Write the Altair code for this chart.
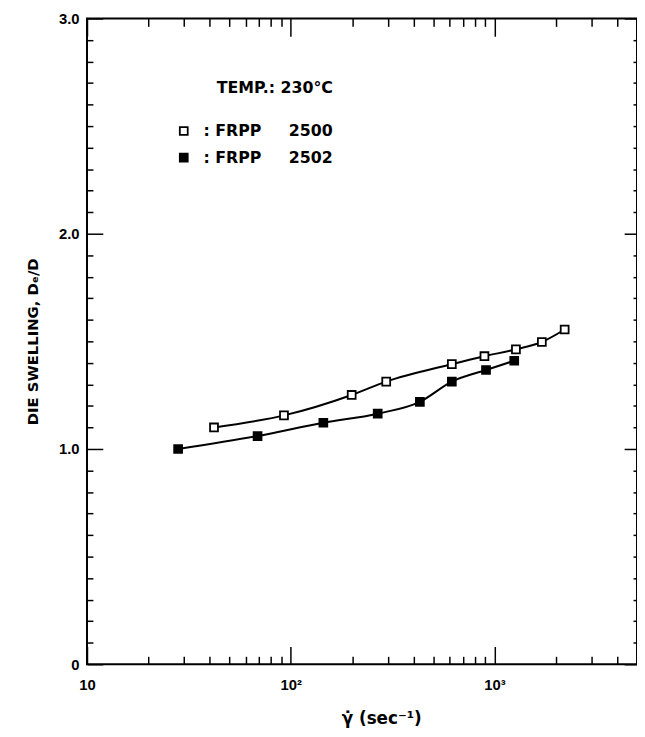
import altair as alt
import pandas as pd

# ---- data ----
series_names = ["FRPP 2500", "FRPP 2502"]
open_x = [42, 92.6, 199, 294, 617, 892, 1273, 1706, 2208]
open_y = [1.100, 1.156, 1.251, 1.313, 1.394, 1.431, 1.463, 1.497, 1.555]
filled_x = [28, 68.7, 144.5, 267, 430, 617, 908, 1249]
filled_y = [1.000, 1.060, 1.122, 1.164, 1.219, 1.313, 1.367, 1.410]

# ---- axis ticks / labels ----
x_major = [10, 100, 1000]
x_major_labels = ["10", "10²", "10³"]
x_ticks = [10, 20, 30, 40, 50, 60, 70, 80, 90,
           100, 200, 300, 400, 500, 600, 700, 800, 900,
           1000, 2000, 3000, 4000]
y_major = [0, 1, 2, 3]
y_major_labels = ["0", "1.0", "2.0", "3.0"]
y_ticks = [round(i / 10, 1) for i in range(31)]

df = pd.concat([
    pd.DataFrame({"x": open_x, "y": open_y, "series": series_names[0]}),
    pd.DataFrame({"x": filled_x, "y": filled_y, "series": series_names[1]}),
], ignore_index=True)

W, H = 557, 654

xscale = alt.Scale(type="log", domain=[10, 5000], nice=False)
yscale = alt.Scale(domain=[0, 3], nice=False)

x_label_expr = " : ".join(
    f"datum.value == {v} ? '{t}'" for v, t in zip(x_major, x_major_labels)
) + " : ''"
y_label_expr = " : ".join(
    f"datum.value == {v} ? '{t}'" for v, t in zip(y_major, y_major_labels)
) + " : ''"

x_major_test = "abs(log(datum.value)/LN10 - round(log(datum.value)/LN10)) < 0.001"
y_major_test = "abs(datum.value - round(datum.value)) < 0.001"

x_axis_main = alt.Axis(
    values=x_major, labelExpr=x_label_expr, ticks=False, tickSize=0,
    domain=False, grid=False, labelFlush=False, labelOverlap=False,
    labelPadding=14, labelFont="Liberation Sans", labelFontWeight="bold",
    labelFontSize=15, labelColor="black",
    title="\u03b3\u0307 (sec\u207b\u00b9)", titleFont="DejaVu Sans",
    titleFontSize=17, titleFontWeight="bold", titleColor="black",
    titleX=298, titleY=55, titleBaseline="middle", titleAlign="center",
)
y_axis_main = alt.Axis(
    values=y_major, labelExpr=y_label_expr, ticks=False, tickSize=0,
    domain=False, grid=False, labelOverlap=False, labelPadding=8,
    labelFont="Liberation Sans", labelFontWeight="bold", labelFontSize=15,
    labelColor="black",
    title="DIE SWELLING, D\u2091/D", titleFont="DejaVu Sans",
    titleFontSize=15, titleFontWeight="bold", titleColor="black",
    titleX=-55, titleY=H / 2, titleAngle=270, titleBaseline="middle",
    titleAlign="center",
)

def tick_axis(orient, offset, values, test, major, minor):
    return alt.Axis(
        orient=orient, offset=offset, values=values, labels=False,
        domain=False, grid=False, ticks=True, title="",
        tickSize={"condition": {"test": test, "value": major}, "value": minor},
        tickColor="black", tickWidth=1.5,
    )

legend = alt.Legend(
    title="TEMP.: 230°C", orient="none", legendX=90, legendY=62,
    symbolType="square", symbolSize=64, symbolStrokeColor="black",
    symbolStrokeWidth=1.8,
    labelExpr="':\u00a0' + replace(datum.label, ' ', '\u00a0\u00a0\u00a0\u00a0\u00a0')",
    labelFont="DejaVu Sans", labelFontWeight="bold", labelFontSize=16,
    labelColor="black", labelLimit=300, labelOffset=12,
    titleFont="DejaVu Sans", titleFontWeight="bold", titleFontSize=16,
    titleColor="black", titlePadding=28, rowPadding=11, padding=0,
    titleAnchor="end", titleLimit=300,
)

base = alt.Chart(df)
X = alt.X("x:Q", scale=xscale, axis=x_axis_main)
Y = alt.Y("y:Q", scale=yscale, axis=y_axis_main)

lines = base.mark_line(interpolate="monotone", color="black", strokeWidth=2).encode(
    x=X, y=Y, detail="series:N"
)
points = base.mark_square(size=64, stroke="black", strokeWidth=1.8, opacity=1).encode(
    x=X, y=Y,
    fill=alt.Fill("series:N",
                  scale=alt.Scale(domain=series_names, range=["white", "black"]),
                  legend=legend),
)
main = alt.layer(lines, points)

ticks_in_bl = base.mark_point(opacity=0).encode(
    x=alt.X("x:Q", scale=xscale,
            axis=tick_axis("top", -H, x_ticks, x_major_test, 18, 8)),
    y=alt.Y("y:Q", scale=yscale,
            axis=tick_axis("right", -W, y_ticks, y_major_test, 16, 6)),
)
ticks_in_tr = base.mark_point(opacity=0).encode(
    x=alt.X("x:Q", scale=xscale,
            axis=tick_axis("bottom", -H, x_ticks, x_major_test, 18, 8)),
    y=alt.Y("y:Q", scale=yscale,
            axis=tick_axis("left", -W, y_ticks, y_major_test, 13, 4)),
)

chart = alt.layer(main, ticks_in_bl, ticks_in_tr).resolve_axis(
    x="independent", y="independent"
).properties(
    width=W, height=H, autosize="none",
    padding={"left": 80, "top": 6, "right": 0, "bottom": 62},
    background="white",
).configure_view(stroke="black", strokeWidth=2)

chart.save("out.html", embed_options={"renderer": "svg", "actions": False})
